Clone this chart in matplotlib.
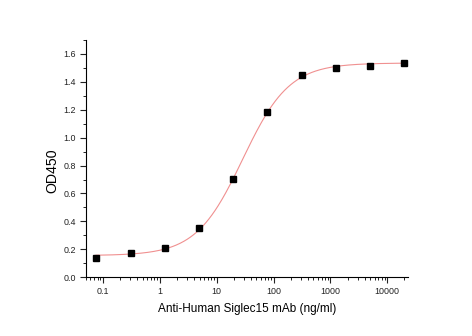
import numpy as np
import matplotlib
matplotlib.use("Agg")
import matplotlib.pyplot as plt
from matplotlib.ticker import LogLocator, NullFormatter, MultipleLocator, FixedLocator, FixedFormatter

plt.rcParams['font.family'] = ['Liberation Sans', 'DejaVu Sans']

# data (ng/ml, OD450)
conc = [0.076, 0.305, 1.22, 4.88, 19.53, 78.1, 312.5, 1250, 5000, 20000]
od450 = [0.136, 0.171, 0.207, 0.351, 0.707, 1.181, 1.449, 1.497, 1.514, 1.535]

# 4-parameter logistic fit parameters (bottom, top, EC50, hill)
fit_bottom = 0.155
fit_top = 1.535
fit_ec50 = 28.6
fit_hill = 1.06

xticks = [0.1, 1, 10, 100, 1000, 10000]
xticklabels = ["0.1", "1", "10", "100", "1000", "10000"]
yticks = [0.0, 0.2, 0.4, 0.6, 0.8, 1.0, 1.2, 1.4, 1.6]
yticklabels = ["0.0", "0.2", "0.4", "0.6", "0.8", "1.0", "1.2", "1.4", "1.6"]

fig = plt.figure(figsize=(4.72, 3.36), dpi=100)
ax = fig.add_axes([0.182, 0.175, 0.682, 0.706])

xs = np.logspace(np.log10(0.075), np.log10(20000), 400)
ys = fit_bottom + (fit_top - fit_bottom) / (1 + (fit_ec50 / xs) ** fit_hill)
ax.plot(xs, ys, color='#f09090', lw=0.8, zorder=2)
ax.plot(conc, od450, 's', color='black', ms=4.6, zorder=3)

ax.set_xscale('log')
ax.set_xlim(0.05, 23000)
ax.set_ylim(0, 1.7)
ax.spines['top'].set_visible(False)
ax.spines['right'].set_visible(False)
for s in ('left', 'bottom'):
    ax.spines[s].set_linewidth(0.8)

ax.xaxis.set_major_locator(FixedLocator(xticks))
ax.xaxis.set_major_formatter(FixedFormatter(xticklabels))
ax.xaxis.set_minor_locator(LogLocator(base=10, subs=np.arange(2, 10), numticks=20))
ax.xaxis.set_minor_formatter(NullFormatter())
ax.yaxis.set_major_locator(FixedLocator(yticks))
ax.yaxis.set_major_formatter(FixedFormatter(yticklabels))
ax.yaxis.set_minor_locator(MultipleLocator(0.1))

ax.tick_params(which='major', direction='out', length=4, width=0.8, labelsize=6.4, pad=3, colors='#222222')
ax.tick_params(which='minor', direction='out', length=2.2, width=0.6)

ax.set_xlabel('Anti-Human Siglec15 mAb (ng/ml)', fontsize=8.5, labelpad=5)
fig.text(52.7 / 472, 1 - 170.5 / 336, 'OD450', rotation=90, fontsize=10.2,
         ha='center', va='center')

fig.savefig('out.png', dpi=100, facecolor='white')
